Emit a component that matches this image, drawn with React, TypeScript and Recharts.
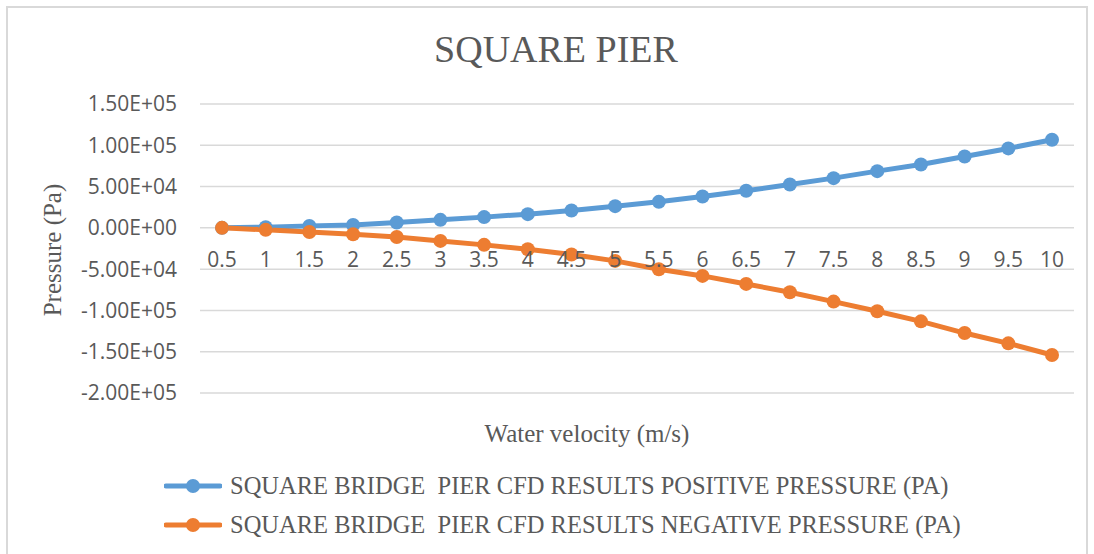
import { LineChart, Line, XAxis, YAxis, CartesianGrid, Legend } from 'recharts';

const velocities = ['0.5', '1', '1.5', '2', '2.5', '3', '3.5', '4', '4.5', '5', '5.5', '6', '6.5', '7', '7.5', '8', '8.5', '9', '9.5', '10'];
const positivePressure = [0, 800, 2400, 3600, 6400, 9700, 13000, 16600, 21000, 26300, 31500, 38000, 44900, 52500, 60200, 68700, 76800, 86500, 96200, 106700];
const negativePressure = [0, -2400, -5000, -7700, -11000, -15800, -20600, -25900, -32300, -40000, -50100, -58200, -67900, -78000, -89300, -101000, -113200, -127400, -139900, -154000];
const yTicks = [-200000, -150000, -100000, -50000, 0, 50000, 100000, 150000];

const POS_NAME = 'SQUARE BRIDGE  PIER CFD RESULTS POSITIVE PRESSURE (PA)';
const NEG_NAME = 'SQUARE BRIDGE  PIER CFD RESULTS NEGATIVE PRESSURE (PA)';
const legendOrder = [POS_NAME, NEG_NAME];

const data = velocities.map((v, i) => ({ v, pos: positivePressure[i], neg: negativePressure[i] }));

const W = 1094;
const H = 554;
const PLOT_TOP = 104;
const PLOT_BOTTOM = 393;
const Y_MIN = yTicks[0];
const Y_MAX = yTicks[yTicks.length - 1];
const zeroY = PLOT_TOP + ((Y_MAX - 0) / (Y_MAX - Y_MIN)) * (PLOT_BOTTOM - PLOT_TOP);

const grey = '#595959';
const serif = '"Liberation Serif", "Times New Roman", serif';
const sans = '"Open Sans", "Liberation Sans", sans-serif';

const sci = (n: number) => {
  const [m, e] = n.toExponential(2).split('e');
  const sign = e[0] === '-' ? '-' : '+';
  const digits = e.replace(/[+-]/, '').padStart(2, '0');
  return `${m}E${sign}${digits}`;
};

// category labels sit just under the zero line, like Excel's crossing axis
const VelocityTick = ({ x, payload }: any) => (
  <text x={x} y={zeroY + 39} textAnchor="middle" fill={grey} fontSize={21} fontFamily={sans}>
    {payload.value}
  </text>
);

const renderLegend = (props: any) => {
  const items = [...props.payload].sort((a: any, b: any) => legendOrder.indexOf(a.value) - legendOrder.indexOf(b.value));
  return (
    <div>
      {items.map((entry: any) => (
        <div key={entry.value} style={{ display: 'flex', alignItems: 'center', height: 39 }}>
          <svg width={58} height={16}>
            <line x1={2} y1={8} x2={56} y2={8} stroke={entry.color} strokeWidth={5} strokeLinecap="round" />
            <circle cx={29} cy={8} r={7} fill={entry.color} />
          </svg>
          <span style={{ marginLeft: 8, fontFamily: serif, fontSize: 24.5, color: grey, whiteSpace: 'pre' }}>{entry.value}</span>
        </div>
      ))}
    </div>
  );
};

export default function App() {
  return (
    <div style={{ position: 'absolute', left: 0, top: 0, width: W, height: H, background: '#fff' }}>
      <div style={{ position: 'absolute', left: 6, top: 6, width: 1082, height: 560, border: '2px solid #d9d9d9', borderBottom: 'none', boxSizing: 'border-box' }} />
      <LineChart width={W} height={H} data={data} margin={{ top: PLOT_TOP, right: 20, bottom: 0, left: 0 }}>
        <CartesianGrid vertical={false} stroke="#d9d9d9" strokeWidth={1.5} />
        <XAxis
          dataKey="v"
          height={H - PLOT_BOTTOM}
          axisLine={false}
          tickLine={false}
          interval={0}
          padding={{ left: 22, right: 22 }}
          tick={<VelocityTick />}
        />
        <YAxis
          width={200}
          domain={[Y_MIN, Y_MAX]}
          ticks={yTicks}
          tickFormatter={sci}
          axisLine={false}
          tickLine={false}
          tickMargin={17}
          tick={{ fill: grey, fontSize: 21, fontFamily: sans }}
        />
        <Legend verticalAlign="middle" align="center" content={renderLegend} wrapperStyle={{ top: 466, left: 164, width: 900, height: 80 }} />
        <Line dataKey="pos" name={POS_NAME} stroke="#5b9bd5" strokeWidth={5} dot={{ r: 7, fill: '#5b9bd5', stroke: 'none' }} isAnimationActive={false} />
        <Line dataKey="neg" name={NEG_NAME} stroke="#ed7d31" strokeWidth={5} dot={{ r: 7, fill: '#ed7d31', stroke: 'none' }} isAnimationActive={false} />
      </LineChart>
      <div style={{ position: 'absolute', left: 256, top: 30, width: 600, textAlign: 'center', fontFamily: serif, fontSize: 38, lineHeight: '38px', color: grey }}>
        SQUARE PIER
      </div>
      <div style={{ position: 'absolute', left: 53 - 100, top: 250 - 15, width: 200, height: 30, lineHeight: '30px', textAlign: 'center', transform: 'rotate(-90deg)', fontFamily: serif, fontSize: 25, color: grey }}>
        Pressure (Pa)
      </div>
      <div style={{ position: 'absolute', left: 587 - 200, top: 420, width: 400, textAlign: 'center', fontFamily: serif, fontSize: 25, lineHeight: '28px', color: grey }}>
        Water velocity (m/s)
      </div>
    </div>
  );
}
